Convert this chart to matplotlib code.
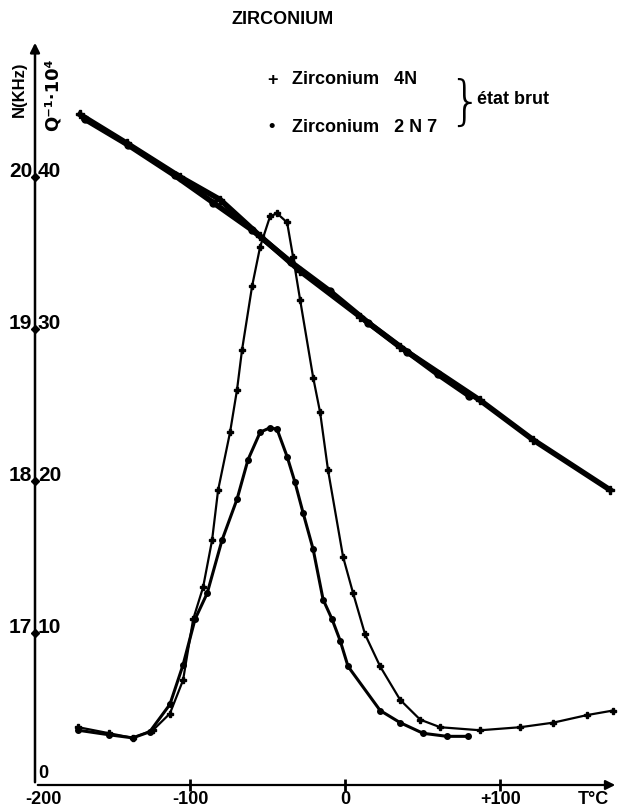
import matplotlib
matplotlib.use('Agg')
import matplotlib.pyplot as plt

FONT = ['Liberation Sans', 'DejaVu Sans']
plt.rcParams.update({'font.family': FONT, 'font.weight': 'bold'})
INK = '#000000'

# internal friction Q^-1 x 10^4 vs temperature (deg C)
t_4n_q = [-172, -152, -137, -124, -113, -104.5, -98, -91.6, -85.8, -81.9, -74.2, -69.7,
          -66.5, -60, -54.8, -48.4, -43.9, -37.4, -33.5, -29, -20.6, -16.1, -11, -1.3,
          5.2, 12.9, 22.6, 35.5, 48.4, 61.3, 87.1, 112.9, 134.2, 156.1, 172.9]
q_4n = [3.8, 3.4, 3.1, 3.6, 4.7, 6.9, 10.9, 13.0, 16.1, 19.4, 23.2, 26.0,
        28.6, 32.8, 35.4, 37.4, 37.6, 37.0, 34.7, 31.9, 26.8, 24.5, 20.7, 15.0,
        12.6, 9.9, 7.8, 5.6, 4.3, 3.8, 3.6, 3.8, 4.1, 4.6, 4.9]
t_2n7_q = [-172, -152, -137, -126, -113, -104.5, -96.8, -89, -79.4, -69.7, -62.6, -54.8,
           -48.4, -43.9, -37.4, -32.3, -27.1, -20.6, -14.2, -8.4, -3.2, 1.9, 22.6, 35.5,
           50.3, 65.8, 79.4]
q_2n7 = [3.6, 3.3, 3.1, 3.5, 5.3, 7.9, 10.9, 12.6, 16.1, 18.8, 21.4, 23.2,
         23.5, 23.4, 21.6, 19.9, 17.9, 15.5, 12.2, 10.9, 9.5, 7.8, 4.9, 4.1,
         3.4, 3.2, 3.2]

# resonance frequency N (kHz) vs temperature
t_4n_f = [-171, -140.6, -106.5, -80.6, -54.8, -29, 9.7, 35.5, 87.1, 121.3, 171]
n_4n = [20.41, 20.22, 20.0, 19.85, 19.61, 19.38, 19.08, 18.88, 18.53, 18.27, 17.94]
t_2n7_f = [-168, -140, -110, -85, -60, -35, -10, 15, 40, 60, 80]
n_2n7 = [20.38, 20.21, 20.01, 19.83, 19.65, 19.44, 19.25, 19.04, 18.85, 18.70, 18.56]

xticks = [-200, -100, 0, 100]
xlabels = ['-200', '-100', '0', '+100']
qticks = [10, 20, 30, 40]
nlabels = ['17', '18', '19', '20']

fig = plt.figure(figsize=(6.21, 8.09), dpi=100)
ax = fig.add_axes([35 / 621, 1 - 785 / 809, 583 / 621, 745 / 809])
ax.set_xlim(-200, 176)
ax.set_ylim(0, 49)
ax2 = ax.twinx()
ax2.set_ylim(16, 16 + 4.9)
for a in (ax, ax2):
    a.set_axis_off()

ax.plot(t_4n_q, q_4n, color=INK, lw=1.6, marker='P', ms=5, clip_on=False)
ax.plot(t_2n7_q, q_2n7, color=INK, lw=2.2, marker='o', ms=4, clip_on=False)
ax2.plot(t_4n_f, n_4n, color=INK, lw=4, marker='P', ms=6, clip_on=False)
ax2.plot(t_2n7_f, n_2n7, color=INK, lw=4, marker='o', ms=5, clip_on=False)

# axes with arrows
ax.annotate('', xy=(0, 1), xytext=(0, 0), xycoords='axes fraction',
            arrowprops=dict(arrowstyle='-|>', lw=1.8, color=INK, mutation_scale=14))
ax.annotate('', xy=(1, 0), xytext=(0, 0), xycoords='axes fraction',
            arrowprops=dict(arrowstyle='-|>', lw=1.6, color=INK, mutation_scale=14))

# x tick marks + labels
ax.plot(xticks[1:], [0] * 3, ls='none', marker='|', ms=8, mew=2, color=INK, clip_on=False)
for t, lab in zip(xticks, xlabels):
    ax.annotate(lab, (t, 0), xytext=(6 if t == -200 else 0, -4), textcoords='offset points',
                ha='center', va='top', fontsize=13, fontweight='bold')
ax.annotate('T°C', (1, 0), xycoords='axes fraction', xytext=(-18, -4),
            textcoords='offset points', ha='center', va='top', fontsize=13, fontweight='bold')

# y ticks: "N,Q" with axis as comma
ax.plot([-200] * 4, qticks, ls='none', marker='D', ms=4, color=INK, clip_on=False)
for q, n in zip(qticks, nlabels):
    ax.annotate(n, (-200, q), xytext=(-2, 0), textcoords='offset points',
                ha='right', va='baseline', fontsize=15, fontweight='bold')
    ax.annotate(str(q), (-200, q), xytext=(2, 0), textcoords='offset points',
                ha='left', va='baseline', fontsize=15, fontweight='bold')
ax.annotate('0', (-200, 0), xytext=(2, 2), textcoords='offset points',
            ha='left', va='bottom', fontsize=13, fontweight='bold')

fig.text(19 / 621, 1 - 89 / 809, 'N(KHz)', rotation=90, ha='center', va='center',
         fontsize=12, fontweight='bold')
fig.text(53 / 621, 1 - 95 / 809, 'Q⁻¹·10⁴', rotation=90, ha='center', va='center',
         fontsize=13, fontweight='bold', family=['DejaVu Sans'])

fig.text(283 / 621, 1 - 20 / 809, 'ZIRCONIUM', ha='center', va='center', fontsize=13,
         fontweight='bold')

# legend
fig.text(272 / 621, 1 - 80 / 809, '+', ha='center', va='center', fontsize=13, fontweight='bold')
fig.text(292 / 621, 1 - 80 / 809, 'Zirconium   4N', ha='left', va='center', fontsize=13,
         fontweight='bold')
fig.text(272 / 621, 1 - 127 / 809, '•', ha='center', va='center', fontsize=13, fontweight='bold')
fig.text(292 / 621, 1 - 127 / 809, 'Zirconium   2 N 7', ha='left', va='center', fontsize=13,
         fontweight='bold')
fig.text(465 / 621, 1 - 104 / 809, '}', ha='center', va='center', fontsize=38,
         fontweight='light', family=['DejaVu Sans'])
fig.text(477 / 621, 1 - 100 / 809, 'état brut', ha='left', va='center', fontsize=13,
         fontweight='bold')

fig.savefig('out.png', dpi=100)
